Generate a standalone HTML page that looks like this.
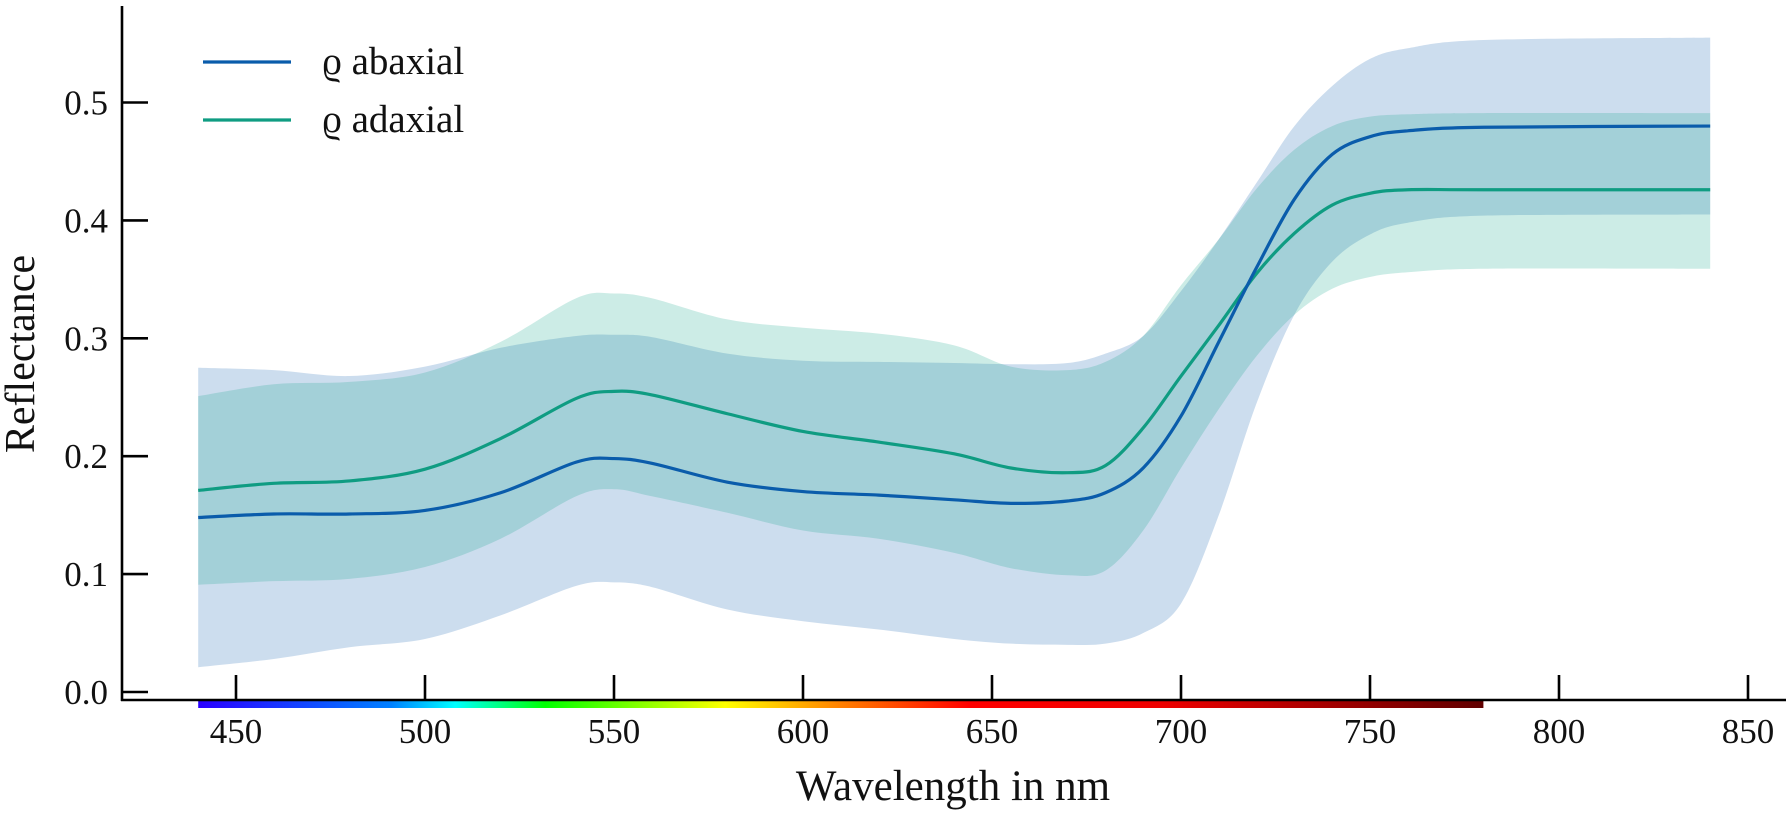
<!DOCTYPE html>
<html><head><meta charset="utf-8"><style>
html,body{margin:0;padding:0;background:#fff;}
svg text{font-family:"Liberation Serif",serif;fill:#111;}
</style></head><body>
<svg id="chart" width="1788" height="819" xmlns="http://www.w3.org/2000/svg">
<defs>
<linearGradient id="spec" x1="0" x2="1" y1="0" y2="0">
<stop offset="0" stop-color="#2a00ff"/>
<stop offset="0.15" stop-color="#0080ff"/>
<stop offset="0.2" stop-color="#00ffff"/>
<stop offset="0.27" stop-color="#00ff00"/>
<stop offset="0.41" stop-color="#ffff00"/>
<stop offset="0.5" stop-color="#ff8000"/>
<stop offset="0.6" stop-color="#ff0000"/>
<stop offset="0.75" stop-color="#ee0000"/>
<stop offset="1" stop-color="#600000"/>
</linearGradient>
</defs>
<g id="plot"></g>
</svg>
<script>
const wl = [440,460,480,500,520,540,550,560,580,600,620,640,655,670,680,690,700,710,720,730,740,750,760,780,840];
const abMean = [0.148,0.151,0.151,0.154,0.169,0.195,0.198,0.194,0.178,0.170,0.167,0.163,0.160,0.162,0.169,0.190,0.234,0.297,0.360,0.418,0.456,0.471,0.476,0.479,0.480];
const abUpper = [0.275,0.273,0.268,0.276,0.292,0.302,0.303,0.301,0.287,0.281,0.280,0.279,0.278,0.279,0.287,0.302,0.340,0.384,0.432,0.480,0.514,0.537,0.546,0.553,0.555];
const abLower = [0.021,0.028,0.038,0.045,0.065,0.090,0.093,0.089,0.070,0.060,0.053,0.045,0.041,0.040,0.041,0.050,0.075,0.150,0.245,0.320,0.365,0.388,0.398,0.404,0.405];
const adMean = [0.171,0.177,0.179,0.189,0.215,0.249,0.255,0.252,0.236,0.221,0.212,0.202,0.190,0.186,0.192,0.224,0.268,0.311,0.355,0.389,0.413,0.423,0.426,0.426,0.426];
const adUpper = [0.251,0.261,0.263,0.271,0.297,0.334,0.338,0.334,0.316,0.309,0.304,0.294,0.276,0.273,0.280,0.302,0.345,0.384,0.427,0.460,0.480,0.488,0.490,0.491,0.491];
const adLower = [0.091,0.094,0.096,0.106,0.130,0.166,0.172,0.166,0.152,0.137,0.130,0.118,0.105,0.099,0.103,0.137,0.190,0.240,0.285,0.320,0.342,0.352,0.356,0.359,0.359];
const xTicks = [450,500,550,600,650,700,750,800,850];
const yTicks = [0.0,0.1,0.2,0.3,0.4,0.5];
const yTickLabels = ["0.0","0.1","0.2","0.3","0.4","0.5"];

const NS="http://www.w3.org/2000/svg";
const X = w => 236 + (w-450)*3.78;
const Y = r => 692 - r*1179;
const g = document.getElementById('plot');
function mk(tag, attrs){const e=document.createElementNS(NS,tag);for(const k in attrs)e.setAttribute(k,attrs[k]);g.appendChild(e);return e;}
function smooth(pts){
  let d=`M${pts[0][0]},${pts[0][1]}`;
  for(let i=0;i<pts.length-1;i++){
    const p0=pts[Math.max(i-1,0)],p1=pts[i],p2=pts[i+1],p3=pts[Math.min(i+2,pts.length-1)];
    const c1=[p1[0]+(p2[0]-p0[0])/6,p1[1]+(p2[1]-p0[1])/6];
    const c2=[p2[0]-(p3[0]-p1[0])/6,p2[1]-(p3[1]-p1[1])/6];
    d+=` C${c1[0]},${c1[1]} ${c2[0]},${c2[1]} ${p2[0]},${p2[1]}`;
  }
  return d;
}
function band(up,lo){
  const u=wl.map((w,i)=>[X(w),Y(up[i])]);
  const l=wl.map((w,i)=>[X(w),Y(lo[i])]).reverse();
  return smooth(u)+' L'+smooth(l).slice(1)+' Z';
}
let e;
e=mk('path',{d:band(abUpper,abLower),fill:'#0055a8','fill-opacity':0.2});


e=mk('path',{d:band(adUpper,adLower),fill:'#009e82','fill-opacity':0.2});


e=mk('path',{d:smooth(wl.map((w,i)=>[X(w),Y(adMean[i])])),fill:'none',stroke:'#0f9c82','stroke-width':3.2});


e=mk('path',{d:smooth(wl.map((w,i)=>[X(w),Y(abMean[i])])),fill:'none',stroke:'#0a5cab','stroke-width':3.2});



e=mk('rect',{x:X(440),y:701,width:X(780)-X(440),height:7,fill:'url(#spec)'});



e=mk('line',{x1:122,y1:6,x2:122,y2:701,stroke:'#000','stroke-width':2.6});


e=mk('line',{x1:121,y1:700,x2:1786,y2:700,stroke:'#000','stroke-width':2.6});



xTicks.forEach(t=>{
  const tk=mk('line',{x1:X(t),y1:675,x2:X(t),y2:700,stroke:'#000','stroke-width':2.6});
  
  
  const tx=mk('text',{x:X(t),y:743,'font-size':35,'text-anchor':'middle'});
  tx.textContent=t;
  
  
});
yTicks.forEach((t,i)=>{
  const tk=mk('line',{x1:122,y1:Y(t),x2:148,y2:Y(t),stroke:'#000','stroke-width':2.6});
  
  
  const tx=mk('text',{x:108,y:Y(t)+12,'font-size':35,'text-anchor':'end'});
  tx.textContent=yTickLabels[i];
  
  
});

e=mk('text',{x:953,y:800,'font-size':43,'text-anchor':'middle'});
e.textContent='Wavelength in nm';


e=mk('text',{x:0,y:0,'font-size':42,'text-anchor':'middle',transform:'translate(34,354) rotate(-90)'});
e.textContent='Reflectance';



e=mk('line',{x1:203,y1:62,x2:291,y2:62,stroke:'#0a5cab','stroke-width':3.2});


e=mk('text',{x:322,y:74,'font-size':39});
e.textContent='ϱ abaxial';


e=mk('line',{x1:203,y1:120,x2:291,y2:120,stroke:'#0f9c82','stroke-width':3.2});


e=mk('text',{x:322,y:132,'font-size':39});
e.textContent='ϱ adaxial';


</script>
</body></html>
